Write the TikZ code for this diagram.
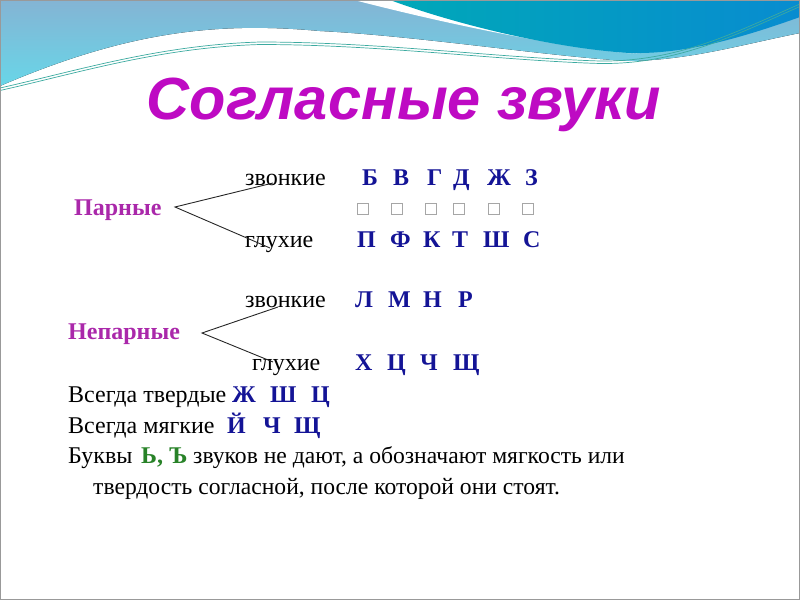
\documentclass[tikz,border=0pt]{standalone}
\usepackage{fontspec}
\setmainfont{Liberation Serif}
\newfontfamily\titlefont{Liberation Sans}
\usetikzlibrary{positioning}

\definecolor{slidelight}{RGB}{132,180,212}
\definecolor{slidecyan}{RGB}{104,214,232}
\definecolor{slideteal}{RGB}{0,168,184}
\definecolor{slideblue}{RGB}{8,140,208}
\definecolor{slideline}{RGB}{60,170,160}
\definecolor{titlemag}{RGB}{190,10,195}
\definecolor{groupmag}{RGB}{170,40,170}
\definecolor{letterblue}{RGB}{20,20,150}
\definecolor{softgreen}{RGB}{40,130,40}

\tikzset{
word/.style={anchor=base west, inner sep=0pt, font=\fontsize{24}{28}\selectfont},
letter/.style={word, text=letterblue, font=\fontsize{24}{28}\selectfont\bfseries},
group/.style={word, text=groupmag, font=\fontsize{24}{28}\selectfont\bfseries},
noteline/.style={word, font=\fontsize{23.6}{28}\selectfont},
pairbox/.style={anchor=west, inner sep=0pt, draw=gray!70, line width=0.6pt, minimum size=11pt},
branch/.style={line width=0.9pt, black!85}}

\begin{document}
\begin{tikzpicture}[x=1pt,y=1pt,yscale=-1,xscale=1]

    \useasboundingbox (0,0) rectangle (800,600);

    % header waves
    \fill[top color=slidelight, bottom color=slidecyan]
        (0,0) -- (800,0) -- (800,33)
        .. controls (740,45) and (690,60) .. (630,61)
        .. controls (560,58) and (420,36) .. (320,31)
        .. controls (220,22) and (130,30) .. (0,86) -- cycle;
    \fill[white]
        (354,0) -- (392,0) .. controls (460,25) and (560,48) .. (640,54)
        .. controls (580,50) and (470,30) .. (354,0) -- cycle;
    \shade[left color=slideteal, right color=slideblue]
        (390,0) -- (800,0) -- (800,17)
        .. controls (730,42) and (680,54) .. (630,53)
        .. controls (560,49) and (460,26) .. (390,0) -- cycle;
    \foreach \d in {0,2.5}{
        \draw[slideline, line width=0.7pt]
            (0,88+\d) .. controls (80,70+\d) and (160,45+\d) .. (260,42+\d)
            .. controls (380,42+\d) and (500,58+\d) .. (600,61+\d)
            .. controls (680,62+\d) and (740,30+\d) .. (800,4+\d);
    }
    \draw[gray!80, line width=1pt] (0.5,0.5) rectangle (799.5,599.5);

    % title
    \node[anchor=base, inner sep=0pt, text=titlemag,
          font=\titlefont\fontsize{59.5}{66}\selectfont\bfseries\itshape]
        (title) at (404,119) {Согласные звуки};

    % paired consonants
    \node[word] (zv1) at (245,185) {звонкие};
    \node[word] (gl1) at (245,247) {глухие};
    \node[group] (par) at (74,215) {Парные};
    \foreach \l/\x [count=\i] in {Б/362,В/393,Г/427,Д/453,Ж/487,З/525}
        \node[letter] (zvA\i) at (\x,185) {\l};
    \foreach \x [count=\i] in {357,391,425,453,488,522}
        \node[pairbox] (box\i) at (\x,209) {};
    \foreach \l/\x [count=\i] in {П/357,Ф/390,К/423,Т/452,Ш/483,С/523}
        \node[letter] (glA\i) at (\x,247) {\l};

    \coordinate (parV) at (175,207);
    \coordinate (parUp) at (273,183);
    \coordinate (parDn) at (270,248);
    \draw[branch] (parUp) -- (parV) -- (parDn);

    % unpaired consonants
    \node[word] (zv2) at (245,307) {звонкие};
    \node[word] (gl2) at (252,370) {глухие};
    \node[group] (nepar) at (68,339) {Непарные};
    \foreach \l/\x [count=\i] in {Л/355,М/388,Н/423,Р/458}
        \node[letter] (zvB\i) at (\x,307) {\l};
    \foreach \l/\x [count=\i] in {Х/355,Ц/387,Ч/420,Щ/453}
        \node[letter] (glB\i) at (\x,370) {\l};

    \coordinate (neparV) at (202,333);
    \coordinate (neparUp) at (278,307);
    \coordinate (neparDn) at (273,362);
    \draw[branch] (neparUp) -- (neparV) -- (neparDn);

    % always hard / soft
    \node[word] (hard) at (68,402) {Всегда твердые};
    \foreach \l/\x [count=\i] in {Ж/232,Ш/270,Ц/311}
        \node[letter] (hardL\i) at (\x,402) {\l};
    \node[word] (soft) at (68,433) {Всегда мягкие};
    \foreach \l/\x [count=\i] in {Й/227,Ч/263,Щ/294}
        \node[letter] (softL\i) at (\x,433) {\l};

    % soft and hard signs
    \node[word] (bukvy) at (68,463) {Буквы};
    \node[word, text=softgreen, font=\fontsize{24}{28}\selectfont\bfseries] (signs) at (141,463) {Ь, Ъ};
    \node[noteline] (note1) at (193,463) {звуков не дают, а обозначают мягкость или};
    \node[noteline] (note2) at (93,494) {твердость согласной, после которой они стоят.};

\end{tikzpicture}
\end{document}
